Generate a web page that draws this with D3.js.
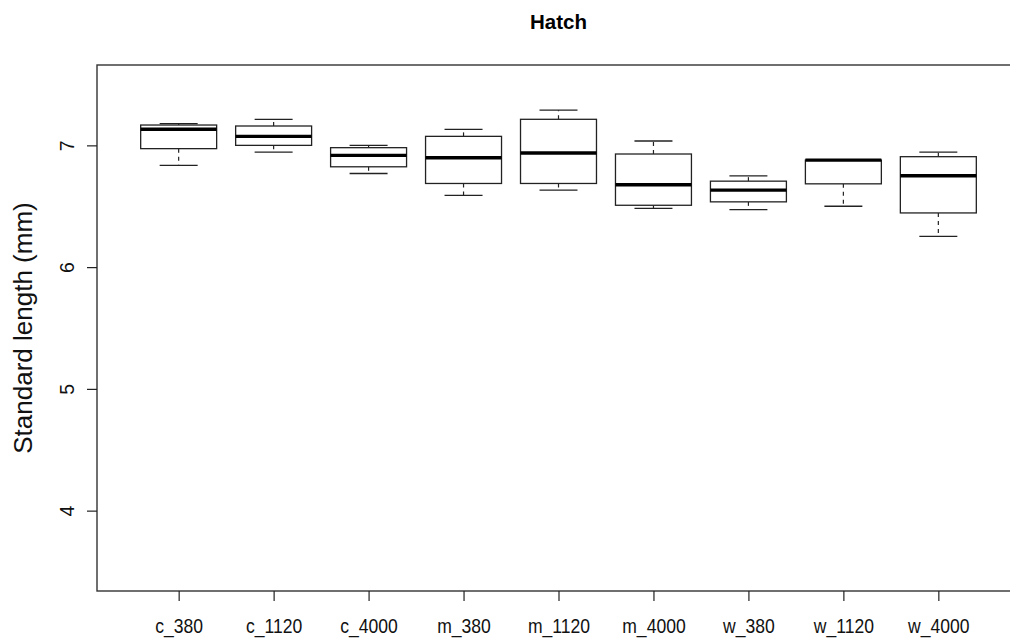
<!DOCTYPE html>
<html>
<head>
<meta charset="utf-8">
<script src="https://cdn.jsdelivr.net/npm/d3@7"></script>
<style>
  html, body { margin: 0; padding: 0; background: #fff; }
  svg { display: block; font-family: "Liberation Sans", Arial, sans-serif; }
</style>
</head>
<body>
<svg id="chart" width="1010" height="639"></svg>
<script>
// Standard length at hatch, by treatment group
const groups       = ["c_380", "c_1120", "c_4000", "m_380", "m_1120", "m_4000", "w_380", "w_1120", "w_4000"];
const lowerWhisker = [6.835, 6.945, 6.769, 6.590, 6.632, 6.483, 6.472, 6.500, 6.252];
const lowerQuart   = [6.973, 7.000, 6.824, 6.687, 6.687, 6.508, 6.536, 6.684, 6.445];
const medians      = [7.132, 7.074, 6.918, 6.898, 6.937, 6.676, 6.632, 6.879, 6.750];
const upperQuart   = [7.167, 7.159, 6.981, 7.074, 7.214, 6.929, 6.706, 6.879, 6.907];
const upperWhisker = [7.179, 7.214, 7.000, 7.132, 7.289, 7.036, 6.750, 6.879, 6.945];
const yTicks       = [4, 5, 6, 7];

const boxes = groups.map((g, i) => ({
  name: g, pos: i + 1,
  lo: lowerWhisker[i], q1: lowerQuart[i], med: medians[i], q3: upperQuart[i], hi: upperWhisker[i]
}));

const svg = d3.select("#chart");
const plot = { left: 97, right: 1020, top: 65, bottom: 591 };

const x = d3.scaleLinear().domain([0.14, 9.86]).range([plot.left, plot.right]);
const y = d3.scaleLinear().domain([3.34, 7.66]).range([plot.bottom, plot.top]);

const boxWidth = 0.8, capWidth = 0.4;
const ink = "#222";

// title
svg.append("text")
  .attr("x", (plot.left + plot.right) / 2).attr("y", 29)
  .attr("text-anchor", "middle")
  .attr("font-size", 20.5).attr("font-weight", "bold")
  .text("Hatch");

// plot frame
svg.append("rect")
  .attr("x", plot.left).attr("y", plot.top)
  .attr("width", plot.right - plot.left).attr("height", plot.bottom - plot.top)
  .attr("fill", "none").attr("stroke", "#333").attr("stroke-width", 1.4);

// boxplots
const g = svg.append("g").attr("fill", "none").attr("stroke", ink);
const b = g.selectAll("g.box").data(boxes).join("g").attr("class", "box");

// dashed whiskers
b.append("line")
  .attr("x1", d => x(d.pos)).attr("x2", d => x(d.pos))
  .attr("y1", d => y(d.q3)).attr("y2", d => y(d.hi))
  .attr("stroke-width", 1.2).attr("stroke-dasharray", "4,4");
b.append("line")
  .attr("x1", d => x(d.pos)).attr("x2", d => x(d.pos))
  .attr("y1", d => y(d.q1)).attr("y2", d => y(d.lo))
  .attr("stroke-width", 1.2).attr("stroke-dasharray", "4,4");

// whisker caps
b.append("line")
  .attr("x1", d => x(d.pos - capWidth / 2)).attr("x2", d => x(d.pos + capWidth / 2))
  .attr("y1", d => y(d.hi)).attr("y2", d => y(d.hi))
  .attr("stroke-width", 1.3);
b.append("line")
  .attr("x1", d => x(d.pos - capWidth / 2)).attr("x2", d => x(d.pos + capWidth / 2))
  .attr("y1", d => y(d.lo)).attr("y2", d => y(d.lo))
  .attr("stroke-width", 1.3);

// boxes
b.append("rect")
  .attr("x", d => x(d.pos - boxWidth / 2))
  .attr("width", d => x(d.pos + boxWidth / 2) - x(d.pos - boxWidth / 2))
  .attr("y", d => y(d.q3))
  .attr("height", d => y(d.q1) - y(d.q3))
  .attr("fill", "#fff").attr("stroke-width", 1.3);

// medians
b.append("line")
  .attr("x1", d => x(d.pos - boxWidth / 2)).attr("x2", d => x(d.pos + boxWidth / 2))
  .attr("y1", d => y(d.med)).attr("y2", d => y(d.med))
  .attr("stroke", "#000").attr("stroke-width", 3.4);

// x axis
const xAxis = svg.append("g")
  .attr("transform", `translate(0,${plot.bottom})`)
  .call(d3.axisBottom(x)
    .tickValues(boxes.map(d => d.pos))
    .tickFormat((d, i) => groups[i])
    .tickSize(10).tickPadding(18));
xAxis.select(".domain").remove();
xAxis.selectAll(".tick line").attr("stroke", ink).attr("stroke-width", 1.2);
xAxis.selectAll(".tick text")
  .attr("font-size", 19.5).attr("fill", "#111")
  .attr("font-family", "'Liberation Sans', Arial, sans-serif")
  .attr("transform", function () { return "scale(0.9,1)"; })
  .attr("x", function () { return 0; });

// y axis
const yAxis = svg.append("g")
  .attr("transform", `translate(${plot.left},0)`)
  .call(d3.axisLeft(y).tickValues(yTicks).tickSize(10).tickFormat(d3.format("d")));
yAxis.select(".domain").remove();
yAxis.selectAll(".tick line").attr("stroke", ink).attr("stroke-width", 1.2);
yAxis.selectAll(".tick text")
  .attr("font-size", 19.5).attr("fill", "#111")
  .attr("font-family", "'Liberation Sans', Arial, sans-serif")
  .attr("text-anchor", "middle")
  .attr("dy", null).attr("x", null)
  .attr("transform", `translate(${74.3 - plot.left},0) rotate(-90)`);

// y axis title
svg.append("text")
  .attr("transform", `translate(32,${(plot.top + plot.bottom) / 2}) rotate(-90)`)
  .attr("text-anchor", "middle")
  .attr("font-size", 26).attr("fill", "#111")
  .text("Standard length (mm)");
</script>
</body>
</html>
